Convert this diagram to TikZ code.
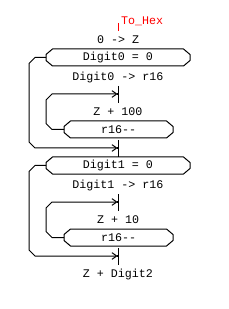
\documentclass[tikz,border=0pt]{standalone}
\usepackage{fontspec}
\setmonofont{Liberation Mono}
\usetikzlibrary{calc,arrows.meta}
\newcommand\chamfbox[1]{%
  \draw ($(#1.north west)+(6.5,0)$) -- ($(#1.north east)+(-6.5,0)$) -- ($(#1.north east)+(0,5.5)$)
    -- ($(#1.south east)+(0,-5.5)$) -- ($(#1.south east)+(-6.5,0)$) -- ($(#1.south west)+(6.5,0)$)
    -- ($(#1.south west)+(0,-5.5)$) -- ($(#1.north west)+(0,5.5)$) -- cycle;}
\newcommand\tipdot[1]{\fill ($(#1)+(-1,-1)$) rectangle ($(#1)+(0.5,1)$);}
\begin{document}
\begin{tikzpicture}[x=0.75pt,y=-0.75pt,line width=0.75pt,
  txt/.style={font=\ttfamily\fontsize{8.75pt}{10pt}\selectfont,inner sep=0pt,outer sep=0pt,text=black},
  bigbox/.style={txt,minimum width=108pt,minimum height=12.75pt},
  smallbox/.style={txt,minimum width=81.75pt,minimum height=12.75pt},
  arr/.style={-{Straight Barb[length=3.5pt,width=5pt,line width=0.75pt]}}]
\path[use as bounding box] (0,0) rectangle (228,309);

% title
\node[txt,text=red,anchor=west] (lbl) at (121,21.5) {To\_Hex};
\coordinate (t0) at (118,23);
\coordinate (t1) at (118,31);
\draw[red] (t0) -- (t1);

\node[txt] (z0) at (118,40) {0 -> Z};
\node[bigbox] (d0) at (118,57.5) {Digit0 = 0};
\chamfbox{d0}
\node[txt] (r0) at (118,77) {Digit0 -> r16};
\node[txt] (z100) at (118,112) {Z + 100};
\node[smallbox] (dec0) at (118.5,129.5) {r16-{}-};
\chamfbox{dec0}
\node[bigbox] (d1) at (118,165.5) {Digit1 = 0};
\chamfbox{d1}
\node[txt] (r1) at (118,185) {Digit1 -> r16};
\node[txt] (z10) at (118,220) {Z + 10};
\node[smallbox] (dec1) at (118.5,237.5) {r16-{}-};
\chamfbox{dec1}
\node[txt] (zd) at (118,274) {Z + Digit2};

% vertical stubs
\coordinate (s0a) at (118,86);  \coordinate (s0b) at (118,103);
\coordinate (s2a) at (118,194); \coordinate (s2b) at (118,211);
\coordinate (s3a) at (118,248); \coordinate (s3b) at (118,265);
\draw (s0a) -- (s0b);
\draw ($(dec0.south)+(-0.5,2)$) -- (d1.north);
\draw (s2a) -- (s2b);
\draw (s3a) -- (s3b);

% arrow targets
\coordinate (a0) at (117.5,94);
\coordinate (a1) at (117.5,148);
\coordinate (a2) at (117.5,202);
\coordinate (a3) at (117.5,256);

% loops block 0
\draw[arr] (dec0.west) -- ++(-12,0) -- ++(-6,-6) -- (46,100) -- (52,94) -- (a0);
\tipdot{a0}
\draw[arr] (d0.west) -- ++(-11,0) -- ++(-6,6) -- (29,142) -- (35,148) -- (a1);
\tipdot{a1}
% loops block 1
\draw[arr] (dec1.west) -- ++(-12,0) -- ++(-6,-6) -- (46,208) -- (52,202) -- (a2);
\tipdot{a2}
\draw[arr] (d1.west) -- ++(-11,0) -- ++(-6,6) -- (29,250) -- (35,256) -- (a3);
\tipdot{a3}
\end{tikzpicture}
\end{document}
